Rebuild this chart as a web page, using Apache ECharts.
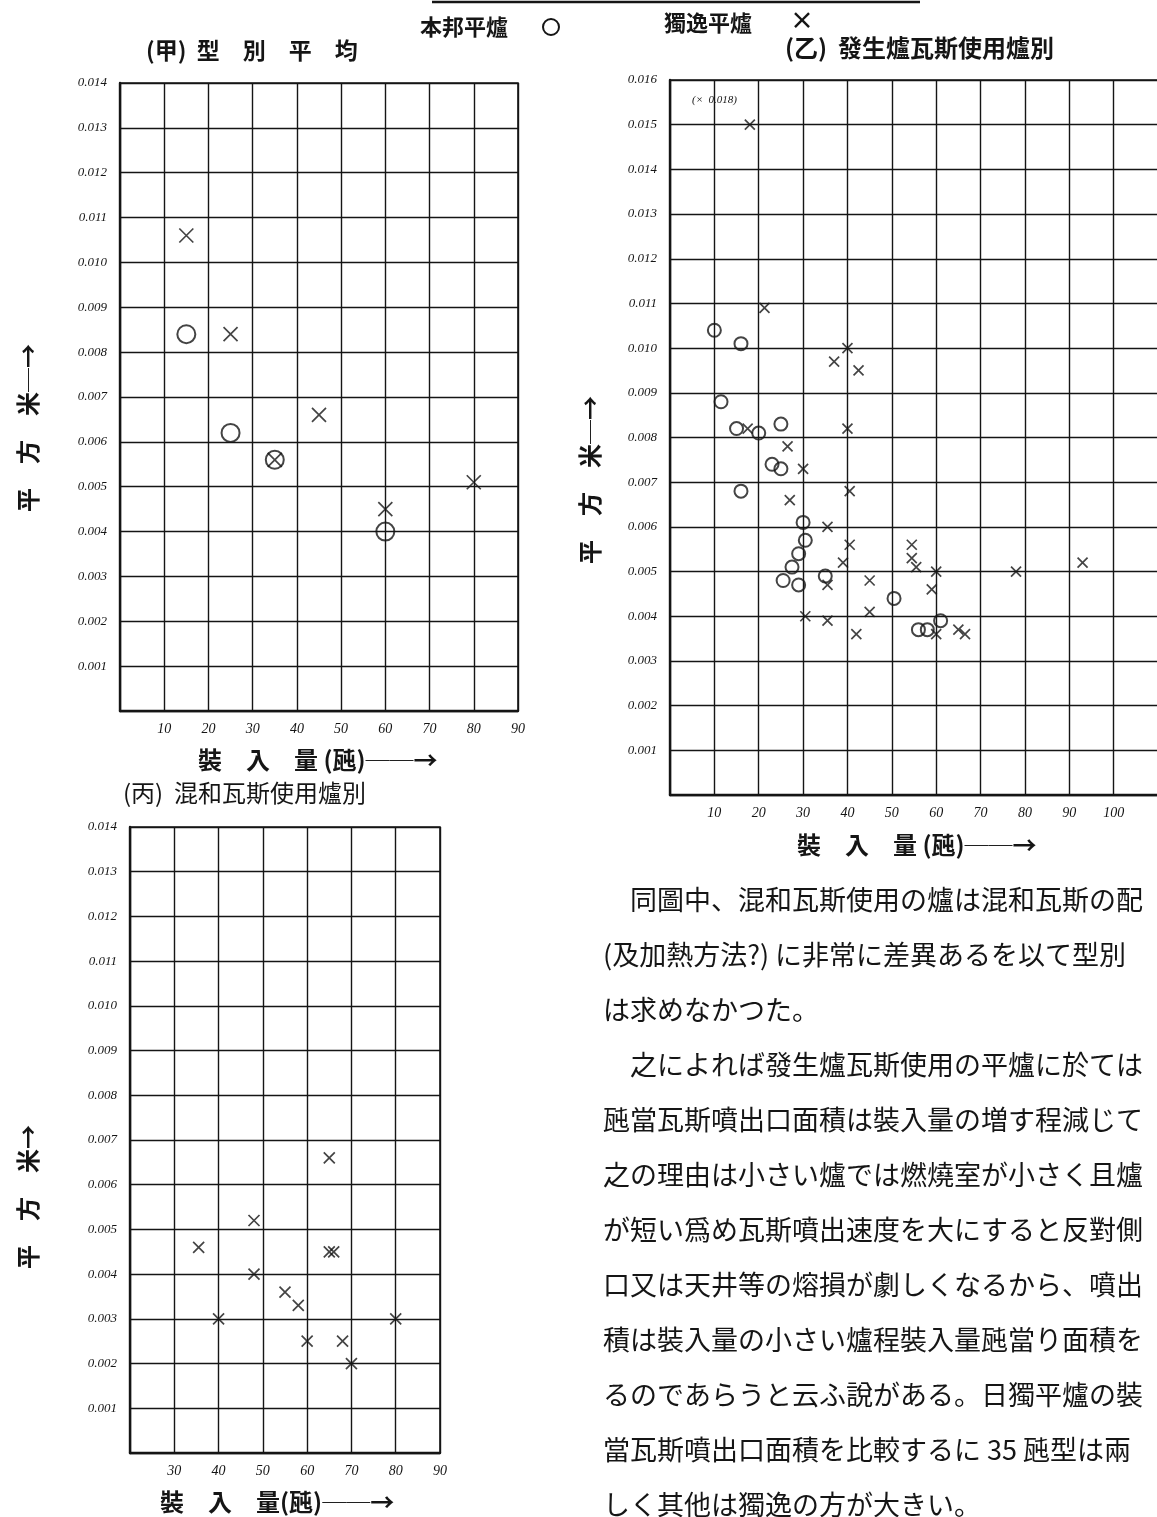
<!DOCTYPE html>
<html lang="ja">
<head>
<meta charset="utf-8">
<title>爐別 瓦斯噴出口面積</title>
<script src="https://cdn.jsdelivr.net/npm/echarts@6.0.0/dist/echarts.min.js"></script>
<style>
  html, body { margin: 0; padding: 0; background: #fff; }
  #chart { width: 1157px; height: 1517px; }
</style>
</head>
<body>
<div id="chart"></div>
<script>
// (甲) 型別平均 : 本邦平爐 ○ / 獨逸平爐 ×
const avgJpLoad = [15, 25, 35, 60]
const avgJpArea = [0.0084, 0.0062, 0.0056, 0.0040]
const avgDeLoad = [15, 25, 35, 45, 60, 80]
const avgDeArea = [0.0106, 0.0084, 0.0056, 0.0066, 0.0045, 0.0051]

// (乙) 發生爐瓦斯使用爐別
const genJpLoad = [10, 16, 11.5, 15, 20, 25, 23, 25, 16, 30, 30.5, 29, 27.5, 25.5, 29, 35, 50.5, 56, 58, 61]
const genJpArea = [0.0104, 0.0101, 0.0088, 0.0082, 0.0081, 0.0083, 0.0074, 0.0073, 0.0068, 0.0061,
  0.0057, 0.0054, 0.0051, 0.0048, 0.0047, 0.0049, 0.0044, 0.0037, 0.0037, 0.0039]
// first point is drawn at the top line, its real value (0.018) is written beside it
const genDeLoad = [18, 21.3, 40, 37, 42.5, 17.5, 40, 26.5, 30, 27, 40.5, 35.5, 40.5, 54.5, 54.5,
  55.5, 39, 60, 78, 93, 35.5, 45, 59, 30.5, 35.5, 45, 42, 60, 65, 66.5]
const genDeArea = [0.0150, 0.0109, 0.0100, 0.0097, 0.0095, 0.0082, 0.0082, 0.0078, 0.0073, 0.0066,
  0.0068, 0.0060, 0.0056, 0.0056, 0.0053, 0.0051, 0.0052, 0.0050, 0.0050, 0.0052,
  0.0047, 0.0048, 0.0046, 0.0040, 0.0039, 0.0041, 0.0036, 0.0036, 0.0037, 0.0036]

// (丙) 混和瓦斯使用爐別
const mixDeLoad = [65, 48, 35.5, 65, 66, 48, 55, 58, 40, 80, 60, 68, 70]
const mixDeArea = [0.0066, 0.0052, 0.0046, 0.0045, 0.0045, 0.0040, 0.0036, 0.0033, 0.0030, 0.0030,
  0.0025, 0.0025, 0.0020]

const bodyLines = [
  '同圖中、混和瓦斯使用の爐は混和瓦斯の配',
  '(及加熱方法?) に非常に差異あるを以て型別',
  'は求めなかつた。',
  '之によれば發生爐瓦斯使用の平爐に於ては',
  '瓲當瓦斯噴出口面積は裝入量の増す程減じて',
  '之の理由は小さい爐では燃燒室が小さく且爐',
  'が短い爲め瓦斯噴出速度を大にすると反對側',
  '口又は天井等の熔損が劇しくなるから、噴出',
  '積は裝入量の小さい爐程裝入量瓲當り面積を',
  'るのであらうと云ふ說がある。日獨平爐の裝',
  '當瓦斯噴出口面積を比較するに 35 瓲型は兩',
  'しく其他は獨逸の方が大きい。'
]
const indented = [0, 3]

const INK = '#151515'
const CJK = '"Noto Sans CJK JP", "Noto Sans CJK SC", sans-serif'
const CROSS = 'path://M0 0L10 10M10 0L0 10'

const pts = (xs, ys) => xs.map((x, i) => [x, ys[i]])

function text(x, y, str, size, weight) {
  return {
    type: 'text', x: x, y: y, silent: true,
    style: {
      text: str, fontSize: size, fontFamily: CJK, fontWeight: weight || 'normal', fill: INK,
      textAlign: 'left', textVerticalAlign: 'middle'
    }
  }
}

function vtext(x, y, str, size) {
  const t = text(x, y, str, size, 'bold')
  t.rotation = Math.PI / 2
  t.style.textAlign = 'center'
  return t
}

function gridOf(left, top, width, height) {
  return { left, top, width, height, show: true, borderColor: INK, borderWidth: 1.6, outerBoundsMode: 'none' }
}

function xAxisOf(gridIndex, min, max, hidden) {
  return {
    type: 'value', gridIndex, min, max, interval: 10,
    axisLine: { show: true, onZero: false, lineStyle: { color: INK, width: 2.4 } },
    axisTick: { show: false },
    splitLine: { show: true, lineStyle: { color: INK, width: 1.4 } },
    axisLabel: {
      margin: 11, color: INK, fontFamily: 'Liberation Serif', fontStyle: 'italic', fontSize: 14,
      showMinLabel: true, showMaxLabel: true,
      formatter: v => (hidden.indexOf(Math.round(v)) >= 0 ? '' : String(Math.round(v)))
    }
  }
}

function yAxisOf(gridIndex, max) {
  return {
    type: 'value', gridIndex, min: 0, max, interval: 0.001,
    axisLine: { show: true, onZero: false, lineStyle: { color: INK, width: 2.4 } },
    axisTick: { show: false },
    splitLine: { show: true, lineStyle: { color: INK, width: 1.4 } },
    axisLabel: {
      margin: 13, color: INK, fontFamily: 'Liberation Serif', fontStyle: 'italic', fontSize: 13,
      formatter: v => (v < 1e-9 ? '' : v.toFixed(3))
    }
  }
}

function circles(axis, data, size) {
  return {
    type: 'scatter', xAxisIndex: axis, yAxisIndex: axis, data, symbol: 'circle', symbolSize: size,
    itemStyle: { color: 'rgba(0,0,0,0)', borderColor: INK, borderWidth: 2 }, silent: true
  }
}

function crosses(axis, data, size) {
  return {
    type: 'scatter', xAxisIndex: axis, yAxisIndex: axis, data, symbol: CROSS, symbolSize: size,
    itemStyle: { color: 'none', borderColor: INK, borderWidth: 1.7 }, silent: true
  }
}

const note = text(692, 100, '(×  0.018)', 11)
note.style.fontFamily = 'Liberation Serif'
note.style.fontStyle = 'italic'

const graphics = [
  { type: 'line', silent: true, shape: { x1: 432, y1: 2, x2: 920, y2: 2 }, style: { stroke: INK, lineWidth: 2.5 } },
  text(420, 27, '本邦平爐', 22, 'bold'),
  { type: 'circle', silent: true, shape: { cx: 551, cy: 27, r: 8 }, style: { fill: 'none', stroke: INK, lineWidth: 2 } },
  text(664, 23, '獨逸平爐', 22, 'bold'),
  text(790, 20, '×', 24, 'bold'),
  text(146, 50, '(甲)  型　別　平　均', 23, 'bold'),
  text(785, 48, '(乙)  發生爐瓦斯使用爐別', 24, 'bold'),
  text(123, 793, '(丙)  混和瓦斯使用爐別', 24),
  text(198, 760, '裝　入　量 (瓲)──→', 24, 'bold'),
  text(797, 845, '裝　入　量 (瓲)──→', 24, 'bold'),
  text(160, 1502, '裝　入　量(瓲)──→', 24, 'bold'),
  vtext(28, 428, '平　方　米─→', 24),
  vtext(590, 480, '平　方　米─→', 24),
  vtext(28, 1197, '平　方　米→', 24),
  note
]

bodyLines.forEach((line, i) => {
  graphics.push(text(indented.indexOf(i) >= 0 ? 630 : 603, 900 + i * 55, line, 27))
})

const chart = echarts.init(document.getElementById('chart'))
chart.setOption({
  animation: false,
  backgroundColor: '#fff',
  grid: [
    gridOf(120, 83, 398, 628),
    gridOf(670, 80, 488, 715),
    gridOf(130, 827, 310, 626)
  ],
  xAxis: [
    xAxisOf(0, 0, 90, [0]),
    xAxisOf(1, 0, 110, [0, 110]),
    xAxisOf(2, 20, 90, [20])
  ],
  yAxis: [
    yAxisOf(0, 0.014),
    yAxisOf(1, 0.016),
    yAxisOf(2, 0.014)
  ],
  series: [
    circles(0, pts(avgJpLoad, avgJpArea), 18),
    crosses(0, pts(avgDeLoad, avgDeArea), 14),
    circles(1, pts(genJpLoad, genJpArea), 13),
    crosses(1, pts(genDeLoad, genDeArea), 10),
    crosses(2, pts(mixDeLoad, mixDeArea), 11)
  ],
  graphic: graphics
})
</script>
</body>
</html>
